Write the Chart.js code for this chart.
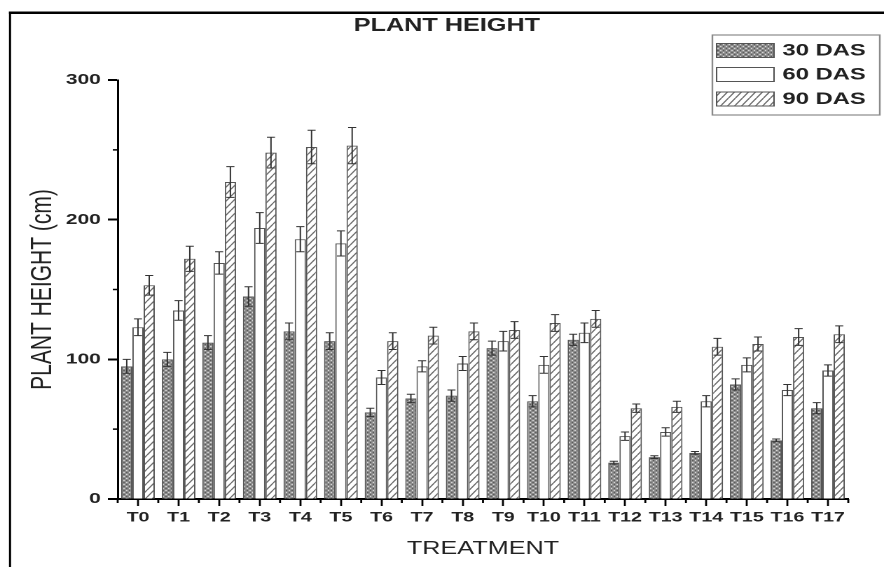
<!DOCTYPE html>
<html>
<head>
<meta charset="utf-8">
<script src="https://cdn.jsdelivr.net/npm/chart.js@4.4.1/dist/chart.umd.min.js"></script>
<style>
  html, body { margin: 0; padding: 0; background: #fff; }
</style>
</head>
<body>
<!-- the original figure is stretched sideways, so the canvas is drawn narrow and widened -->
<canvas id="plantChart" width="631" height="567" style="display:block;width:884px;height:567px"></canvas>
<script>
const treatments = ["T0", "T1", "T2", "T3", "T4", "T5", "T6", "T7", "T8", "T9",
  "T10", "T11", "T12", "T13", "T14", "T15", "T16", "T17"];

const das30 = [95, 100, 112, 145, 120, 113, 62, 72, 74, 108, 70, 114, 26, 30, 33, 82, 42, 65];
const das60 = [123, 135, 169, 194, 186, 183, 87, 95, 97, 113, 96, 119, 45, 48, 70, 96, 78, 92];
const das90 = [153, 172, 227, 248, 252, 253, 113, 117, 120, 121, 126, 129, 65, 66, 109, 111, 116, 118];

const err30 = [5, 5, 5, 7, 6, 6, 3, 3, 4, 5, 4, 4, 1, 1, 1, 4, 1, 4];
const err60 = [6, 7, 8, 11, 9, 9, 5, 4, 5, 7, 6, 7, 3, 3, 4, 5, 4, 4];
const err90 = [7, 9, 11, 11, 12, 13, 6, 6, 6, 6, 6, 6, 3, 4, 6, 5, 6, 6];

const yTickValues = [0, 100, 200, 300];

const FONT = "'Liberation Sans', Arial, sans-serif";
const canvas = document.getElementById("plantChart");
const ctx = canvas.getContext("2d");

// gray dotted fill for 30 DAS
function dotPattern() {
  const t = document.createElement("canvas");
  t.width = 8; t.height = 8;
  const c = t.getContext("2d");
  c.fillStyle = "#8c8c8c";
  c.fillRect(0, 0, 8, 8);
  c.fillStyle = "#d6d6d6";
  c.fillRect(0, 0, 2, 2);
  c.fillRect(4, 4, 2, 2);
  c.fillStyle = "#5a5a5a";
  c.fillRect(4, 0, 2, 2);
  c.fillRect(0, 4, 2, 2);
  const p = ctx.createPattern(t, "repeat");
  p.setTransform(new DOMMatrix().scale(0.5));
  return p;
}

// diagonal hatch for 90 DAS
function hatchPattern() {
  const t = document.createElement("canvas");
  t.width = 10; t.height = 14;
  const c = t.getContext("2d");
  c.fillStyle = "#fff";
  c.fillRect(0, 0, 10, 14);
  c.strokeStyle = "#6a6a6a";
  c.lineWidth = 2;
  c.beginPath();
  c.moveTo(-10, 14); c.lineTo(0, 0);
  c.moveTo(0, 14); c.lineTo(10, 0);
  c.moveTo(10, 14); c.lineTo(20, 0);
  c.stroke();
  const p = ctx.createPattern(t, "repeat");
  p.setTransform(new DOMMatrix().scale(0.5));
  return p;
}

const fills = [dotPattern(), "#ffffff", hatchPattern()];

const errorBars = {
  id: "errorBars",
  afterDatasetsDraw(chart) {
    const c = chart.ctx;
    const y = chart.scales.y;
    c.save();
    c.strokeStyle = "#333";
    c.lineWidth = 1;
    chart.data.datasets.forEach((ds, i) => {
      chart.getDatasetMeta(i).data.forEach((bar, j) => {
        const v = ds.data[j], e = ds.errors[j];
        const top = y.getPixelForValue(v + e);
        const bot = y.getPixelForValue(v - e);
        const half = bar.width * 0.36;
        c.beginPath();
        c.moveTo(bar.x, top); c.lineTo(bar.x, bot);
        c.moveTo(bar.x - half, top); c.lineTo(bar.x + half, top);
        c.moveTo(bar.x - half, bot); c.lineTo(bar.x + half, bot);
        c.stroke();
      });
    });
    c.restore();
  }
};

// frame, title, short minor ticks and the boxed legend
const extras = {
  id: "extras",
  beforeDraw(chart) {
    const c = chart.ctx;
    c.save();
    c.fillStyle = "#000";
    c.fillRect(6.4, 11.5, chart.width, 2.5);
    c.fillRect(6.4, 11.5, 1.5, chart.height);
    c.fillStyle = "#222";
    c.font = "bold 18px " + FONT;
    c.textAlign = "center";
    c.textBaseline = "middle";
    c.fillText("PLANT HEIGHT", 319, 26);
    c.restore();
  },
  afterDraw(chart) {
    const c = chart.ctx;
    const {left, bottom} = chart.chartArea;
    const x = chart.scales.x, y = chart.scales.y;
    c.save();
    c.strokeStyle = "#000";
    c.lineWidth = 1.5;
    c.beginPath();
    for (let i = 0; i < yTickValues.length - 1; i++) {
      const py = y.getPixelForValue((yTickValues[i] + yTickValues[i + 1]) / 2);
      c.moveTo(left - 3.5, py); c.lineTo(left, py);
    }
    c.stroke();
    c.lineWidth = 1.4;
    c.beginPath();
    for (let i = 0; i <= treatments.length; i++) {
      let px;
      if (i === 0) px = x.left;
      else if (i === treatments.length) px = x.right;
      else px = (x.getPixelForValue(i - 1) + x.getPixelForValue(i)) / 2;
      c.moveTo(px, bottom); c.lineTo(px, bottom + 4);
    }
    c.stroke();

    // legend
    c.strokeStyle = "#8a8a8a";
    c.lineWidth = 1.2;
    c.fillStyle = "#fff";
    c.fillRect(508.5, 35, 119.5, 80);
    c.strokeRect(508.5, 35, 119.5, 80);
    const tops = [43.5, 67.5, 92];
    chart.data.datasets.forEach((ds, i) => {
      c.fillStyle = ds.backgroundColor;
      c.fillRect(511.5, tops[i], 41, 14);
      c.strokeStyle = "#555";
      c.lineWidth = 1;
      c.strokeRect(511.5, tops[i], 41, 14);
      c.fillStyle = "#222";
      c.font = "bold 17px " + FONT;
      c.textBaseline = "middle";
      c.textAlign = "left";
      c.fillText(ds.label, 558.5, tops[i] + 7.5);
    });
    c.restore();
  }
};

new Chart(ctx, {
  type: "bar",
  data: {
    labels: treatments,
    datasets: [
      { label: "30 DAS", data: das30, errors: err30, backgroundColor: fills[0] },
      { label: "60 DAS", data: das60, errors: err60, backgroundColor: fills[1] },
      { label: "90 DAS", data: das90, errors: err90, backgroundColor: fills[2] }
    ].map((d) => Object.assign(d, {
      borderColor: "#555",
      borderWidth: 1,
      categoryPercentage: 0.83,
      barPercentage: 1.0
    }))
  },
  options: {
    responsive: false,
    devicePixelRatio: 2,
    animation: false,
    layout: { padding: { left: 0, right: 25.5, top: 80, bottom: 0 } },
    plugins: {
      legend: { display: false },
      tooltip: { enabled: false },
      title: { display: false }
    },
    scales: {
      x: {
        afterFit: (s) => { s.height = 68; },
        grid: { offset: false, drawOnChartArea: false, tickLength: 7, tickColor: "#000", tickWidth: 1.4 },
        border: { color: "#000", width: 2 },
        ticks: {
          autoSkip: false, maxRotation: 0, minRotation: 0, padding: 3,
          color: "#222", font: { family: FONT, size: 14, weight: "bold" }
        },
        title: {
          display: true, text: "TREATMENT", color: "#222",
          font: { family: FONT, size: 18 }, padding: { top: 0, bottom: 7.2 }
        }
      },
      y: {
        min: 0,
        max: 300,
        afterFit: (s) => { s.width = 84; },
        afterBuildTicks: (s) => { s.ticks = yTickValues.map((v) => ({ value: v })); },
        grid: { drawOnChartArea: false, tickLength: 7, tickColor: "#000", tickWidth: 2 },
        border: { color: "#000", width: 1.5 },
        ticks: {
          padding: 5, color: "#222",
          font: { family: FONT, size: 15, weight: "bold" }
        },
        title: {
          display: true, text: "PLANT HEIGHT (cm)", color: "#222",
          font: { family: FONT, size: 21 }, padding: { top: 18, bottom: 0 }
        }
      }
    }
  },
  plugins: [errorBars, extras]
});
canvas.style.width = "884px";
canvas.style.height = "567px";
</script>
</body>
</html>
